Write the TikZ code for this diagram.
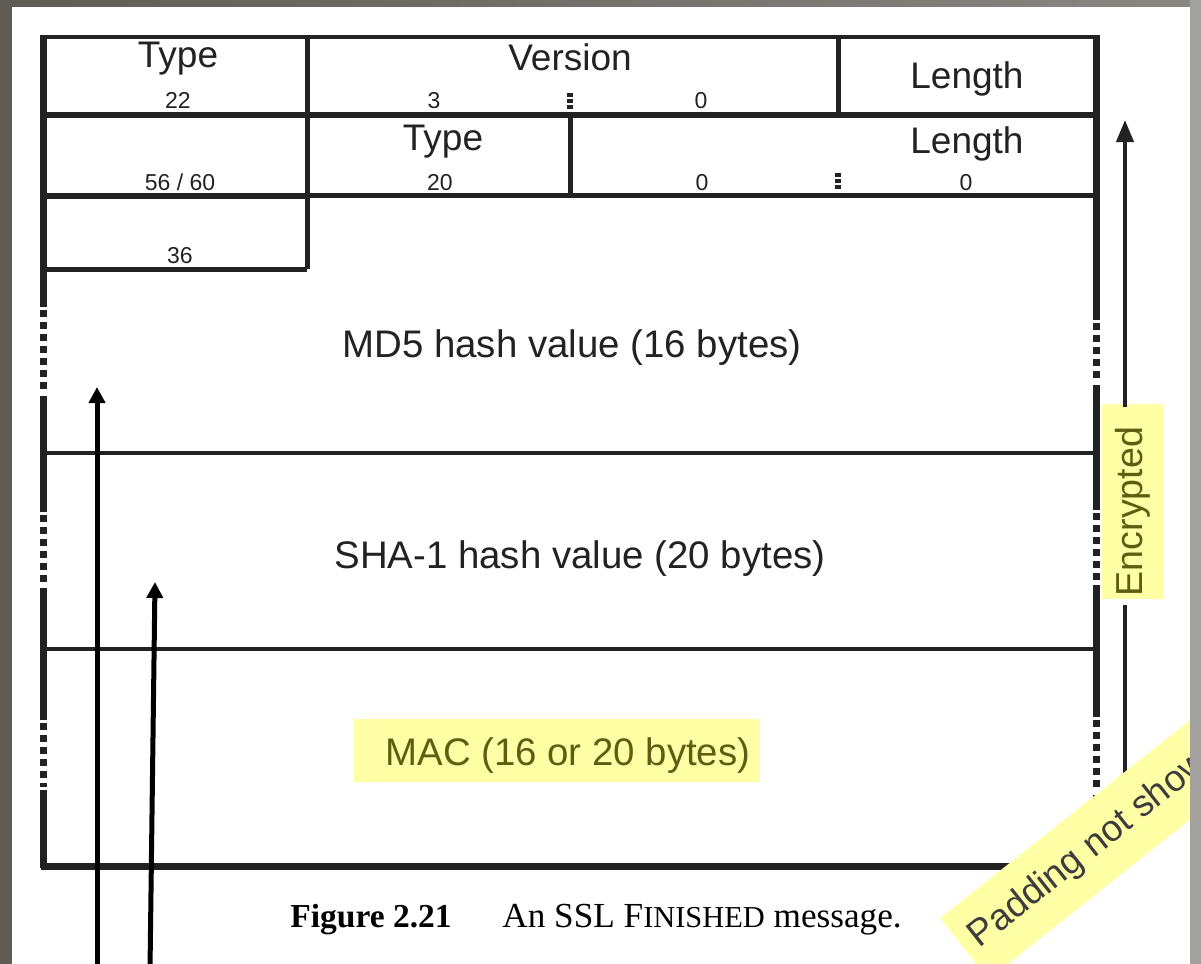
\documentclass[tikz,border=0pt]{standalone}
\usepackage{fontspec}
\setmainfont{Liberation Serif}
\setsansfont{Liberation Sans}
\usetikzlibrary{arrows.meta,calc}

\definecolor{ink}{HTML}{222222}
\definecolor{hl}{HTML}{FFFFA6}
\definecolor{olivetext}{HTML}{5E5E12}
\definecolor{padtext}{HTML}{3D3D3D}
\definecolor{edgeL}{HTML}{5F5C56}
\definecolor{edgeT}{HTML}{8A8782}
\definecolor{edgeR}{HTML}{A3A19D}

\tikzset{
  hdr/.style={font=\sffamily\fontsize{18.5}{20}\selectfont, inner sep=0pt, anchor=base, text=ink},
  body/.style={font=\sffamily\fontsize{19.2}{21}\selectfont, inner sep=0pt, anchor=base, text=ink},
  num/.style={font=\sffamily\fontsize{11.5}{13}\selectfont, inner sep=0pt, anchor=base, text=ink},
  bytesep/.style={draw=ink, line width=2.6pt, dash pattern=on 2pt off 1pt},
  rule/.style={draw=ink, line width=#1},
  rule/.default=2.5pt,
  gapline/.style={draw=ink, line width=3.5pt, dash pattern=on 3.5pt off 2.5pt},
  uparrow/.style={draw=black, line width=2.5pt, -{Triangle[length=8pt,width=8pt]}},
  encarrow/.style={draw=ink, line width=2pt},
  note/.style={fill=hl, inner sep=0pt},
}

\begin{document}
\begin{tikzpicture}[x=0.5pt,y=-0.5pt]
\useasboundingbox (0,0) rectangle (1201,964);
% page
\fill[white] (0,0) rectangle (1201,964);

% ---- record frame ----
\draw[rule=2pt] (41,37) -- (1098,37);
\draw[rule=3.5pt] (43,35) -- (43,868);
\draw[rule=3.5pt] (1096,35) -- (1096,868);
\draw[rule=3.5pt] (41,866) -- (1098,866);

% row boundaries
\draw[rule=3pt] (43,115) -- (1096,115);
\draw[rule=2.5pt] (307,195) -- (1096,195);
\draw[rule=3pt] (43,196) -- (307,196);
\draw[rule=2.5pt] (43,269) -- (307,269);
\draw[rule=2pt] (43,453) -- (1096,453);
\draw[rule=2pt] (43,649) -- (1096,649);

% field dividers
\draw[rule=2.5pt] (307,37) -- (307,269);
\draw[rule=2.5pt] (838,37) -- (838,115);
\draw[rule=2.5pt] (570,115) -- (570,195);

% elided stretches of the frame sides
\foreach \x/\a/\b in {43/310/393, 43/515/585, 43/723/787,
                      1096/323/382, 1096/513/582, 1096/720/792}{
  \fill[white] (\x-5,\a-3) rectangle (\x+5,\b+3);
  \draw[gapline] (\x,\a) -- (\x,\b);
}

% ---- record header ----
\node[hdr] (rtype) at (178,67) {Type};
\node[num] (rtypev) at (178,108) {22};
\node[hdr] (rver) at (570,70) {Version};
\node[num] (rvmaj) at (434,108) {3};
\node[num] (rvmin) at (701,108) {0};
\draw[bytesep] (570,93) -- (570,109);
\node[hdr] (rlen) at (967,88) {Length};

% ---- handshake header ----
\node[num] (rlenv) at (180,190) {56 / 60};
\node[hdr] (htype) at (443,150) {Type};
\node[num] (htypev) at (440,190) {20};
\node[hdr] (hlen) at (967,153) {Length};
\node[num] (hlen1) at (702,190) {0};
\node[num] (hlen2) at (966,190) {0};
\draw[bytesep] (838,173) -- (838,189);
\node[num] (hlen3) at (180,263) {36};

% ---- body ----
\node[body] (md5) at (572,357) {MD5 hash value (16 bytes)};
\node[body] (sha) at (580,568) {SHA-1 hash value (20 bytes)};
\node[note, minimum width=203pt, minimum height=31.5pt] (macbox) at (557,750.5) {};
\node[body, anchor=base west, text=olivetext] (mac) at (385,765) {MAC (16 or 20 bytes)};

% ---- encrypted span ----
\node[note, minimum width=30.5pt, minimum height=97.5pt] (encbox) at (1132.5,501.5) {};
\node[hdr, rotate=90, text=olivetext, font=\sffamily\fontsize{18.8}{20}\selectfont] (enc) at (1142,511.5) {Encrypted};
\coordinate (encTop) at (1125,120);
\coordinate (encBot) at (1125,868);
\draw[encarrow, -{Triangle[length=11pt,width=8.5pt]}] ([yshift=-1.5pt]encbox.north -| encTop) -- (encTop);
\draw[encarrow, -{Triangle[length=7.5pt,width=5pt]}] ([yshift=-3pt]encbox.south -| encBot) -- (encBot);

% ---- pointers from below ----
\coordinate (p1s) at (97,970);
\coordinate (p1e) at (97,387);
\coordinate (p2s) at (150,970);
\coordinate (p2e) at (155,582);
\draw[uparrow] (p1s) -- (p1e);
\draw[uparrow] (p2s) -- (p2e);

% ---- caption ----
\node[font=\bfseries\fontsize{16.75}{18}\selectfont, inner sep=0pt, anchor=base west] (figno) at (290,927) {Figure 2.21};
\node[font=\fontsize{17.6}{19}\selectfont, inner sep=0pt, anchor=base west] (figtxt) at (502,927)
  {An SSL F{\fontsize{15.2}{16}\selectfont INISHED} message.};

% ---- padding note ----
\node[note, rotate=38.4, anchor=west, minimum width=200pt, minimum height=39pt] (padband) at (964,949) {};
\node[rotate=38.4, anchor=west, inner xsep=6pt, inner ysep=0pt, text=padtext,
      font=\sffamily\fontsize{18.5}{20}\selectfont] (pad) at (padband.west) {Padding not shown};

% ---- scan edges ----
\fill[edgeL] (0,0) rectangle (12,964);
\shade[left color=edgeL, right color=edgeT] (0,0) rectangle (1201,6);
\fill[edgeR] (1190,0) rectangle (1201,964);
\end{tikzpicture}
\end{document}
